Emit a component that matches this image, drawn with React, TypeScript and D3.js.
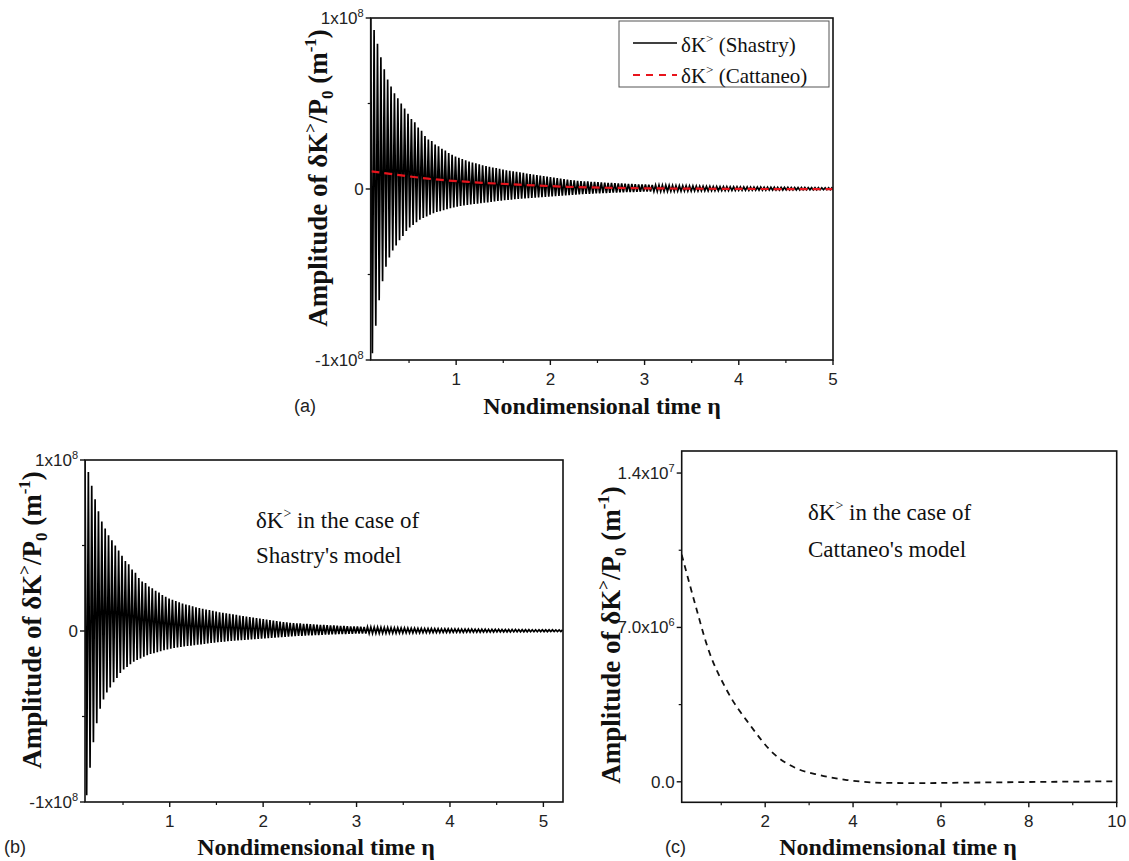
import React from "react";
import * as d3 from "d3";

// Shastry solution: successive peaks (x1e6); peaks alternate upper/lower
const etaStart = 0.093;
const halfStep = 0.018;
const shastryUpper = [
  100, 93, 85, 77, 70, 64, 60, 56, 53, 50, 47, 44, 41, 39, 36, 34, 31, 29, 28, 26,
  25, 23.5, 22.5, 21, 20, 19, 18.2, 17.5, 16.8, 16.1, 15.5, 15, 14.4, 13.9, 13.4, 13,
  12.6, 12.2, 11.8, 11.4, 11, 10.7, 10.4, 10, 9.7, 9.4, 9.1, 8.8, 8.5, 8.2, 7.9, 7.6,
  7.3, 7, 6.7, 6.4, 6.1, 5.8, 5.5, 5.2, 5, 4.8, 4.6,
  4.5, 4.4, 4.2, 4.1, 4, 3.9, 3.7, 3.6, 3.5, 3.4, 3.3, 3.2, 3.1, 3, 2.9, 2.8, 2.7, 2.65, 2.6,
  2.45, 2.4, 2.35, 2.3, 2.25, 2.2, 2.1, 2.05, 2, 1.95, 1.9, 1.85, 1.8, 1.75, 1.7, 1.65,
  1.6, 1.55, 1.5, 1.47, 1.44, 1.41, 1.38, 1.35, 1.32, 1.29, 1.26, 1.23,
  1.2, 1.18, 1.16, 1.14, 1.12, 1.1, 1.08, 1.06, 1.04, 1.02, 1, 0.98, 0.96, 0.94, 0.92,
  0.9, 0.88, 0.86, 0.84, 0.82, 0.8, 0.78, 0.76, 0.74, 0.72, 0.71, 0.7,
  0.69, 0.68, 0.67, 0.66, 0.65, 0.64,
];
const shastryLower = [
  -96, -80, -65, -54, -45.5, -40, -36, -33, -30, -27.5, -24.5, -22.5, -21, -19.5, -18,
  -17, -16, -15, -14.2, -13.5, -13, -12.4, -11.8, -11.3, -10.8, -10.3, -9.9, -9.6, -9.3,
  -9.05, -8.8, -8.55, -8.3, -8.05, -7.8, -7.55, -7.3, -7.05, -6.8, -6.6, -6.4, -6.2, -6,
  -5.85, -5.7, -5.55, -5.4, -5.25, -5.1, -4.95, -4.8, -4.65, -4.5, -4.35, -4.2, -4.05,
  -3.9, -3.75, -3.6, -3.45, -3.3, -3.15, -3,
  -2.9, -2.8, -2.7, -2.6, -2.5, -2.45, -2.35, -2.25, -2.15, -2.1, -2, -1.95, -1.85, -1.8,
  -1.75, -1.7, -1.6, -1.55, -1.5,
  -1.47, -1.45, -1.42, -1.4, -1.37, -1.35, -1.32, -1.3, -1.27, -1.25, -1.22, -1.2, -1.17,
  -1.15, -1.12, -1.1, -1.07, -1.05, -1.02, -1, -0.97, -0.95, -0.92, -0.9, -0.87, -0.85,
  -0.82, -0.8,
  -0.78, -0.77, -0.75, -0.74, -0.72, -0.71, -0.69, -0.68, -0.66, -0.65, -0.63, -0.62, -0.6,
  -0.59, -0.57, -0.56, -0.54, -0.53, -0.51, -0.5, -0.48, -0.47, -0.45, -0.44, -0.42, -0.4,
  -0.39, -0.38, -0.37, -0.36, -0.35, -0.34,
];

// Cattaneo solution (x1e6)
const cattEta = [0.1, 0.4, 0.7, 1.13, 1.66, 2.18, 2.72, 3.25, 3.86, 4.77, 5.5, 6.5, 7.5, 8.5, 10];
const cattVal = [10.3, 8.1, 6.04, 4.14, 2.56, 1.3, 0.6, 0.3, 0.08, -0.05, -0.06, -0.04, -0.02, 0, 0.02];

const xTicksAB = [1, 2, 3, 4, 5];
const xMinorAB = [0.5, 1.5, 2.5, 3.5, 4.5];
const yTicksAB = [-1e8, 0, 1e8];
const yMinorAB = [-5e7, 5e7];
const xTicksC = [2, 4, 6, 8, 10];
const xMinorC = [1, 3, 5, 7, 9];
const yTicksC = [0, 7e6, 1.4e7];
const yMinorC = [3.5e6, 1.05e7];

type Pt = { t: number; v: number };

const shastry: Pt[] = [];
shastryUpper.forEach((u, i) => {
  shastry.push({ t: etaStart + 2 * i * halfStep, v: u * 1e6 });
  if (i < shastryLower.length) shastry.push({ t: etaStart + (2 * i + 1) * halfStep, v: shastryLower[i] * 1e6 });
});
const cattaneo: Pt[] = cattEta.map((t, i) => ({ t, v: cattVal[i] * 1e6 }));

const SANS = "'Liberation Sans', Arial, sans-serif";
const SERIF = "'Liberation Serif', 'Times New Roman', serif";

const tickLabel = (v: number, kind: string) => {
  if (kind === "ab") {
    if (v === 0) return <>0</>;
    return (
      <>
        {v < 0 ? "-" : ""}1x10<tspan dy={-7} fontSize={11}>8</tspan>
      </>
    );
  }
  if (v === 0) return <>0.0</>;
  const exp = Math.floor(Math.log10(v));
  const m = (v / Math.pow(10, exp)).toFixed(1);
  return (
    <>
      {m}x10<tspan dy={-7} fontSize={11}>{exp}</tspan>
    </>
  );
};

const YTitle = ({ x, y }: { x: number; y: number }) => (
  <text
    transform={`translate(${x},${y}) rotate(-90)`}
    textAnchor="middle"
    fontFamily={SERIF}
    fontWeight="bold"
    fontSize={27}
    fill="#111"
  >
    Amplitude of δK<tspan dy={-11} fontSize={17}>&gt;</tspan>
    <tspan dy={11}>/P</tspan>
    <tspan dy={6} fontSize={17}>0</tspan>
    <tspan dy={-6}> (m</tspan>
    <tspan dy={-11} fontSize={17}>-1</tspan>
    <tspan dy={11}>)</tspan>
  </text>
);

type PanelProps = {
  id: string;
  left: number;
  right: number;
  top: number;
  bottom: number;
  xDomain: [number, number];
  yDomain: [number, number];
  xTicks: number[];
  xMinor: number[];
  yTicks: number[];
  yMinor: number[];
  kind: string;
  children: (x: d3.ScaleLinear<number, number>, y: d3.ScaleLinear<number, number>) => React.ReactNode;
};

const Panel = ({ id, left, right, top, bottom, xDomain, yDomain, xTicks, xMinor, yTicks, yMinor, kind, children }: PanelProps) => {
  const x = d3.scaleLinear().domain(xDomain).range([left, right]);
  const y = d3.scaleLinear().domain(yDomain).range([bottom, top]);
  return (
    <g>
      <defs>
        <clipPath id={id}>
          <rect x={left} y={top} width={right - left} height={bottom - top} />
        </clipPath>
      </defs>
      <g clipPath={`url(#${id})`}>{children(x, y)}</g>
      <rect x={left} y={top} width={right - left} height={bottom - top} fill="none" stroke="#111" strokeWidth={1.6} />
      {xTicks.map((t) => (
        <g key={"xt" + t}>
          <line x1={x(t)} x2={x(t)} y1={bottom} y2={bottom + 5} stroke="#111" strokeWidth={1.4} />
          <text x={x(t)} y={bottom + 25} textAnchor="middle" fontFamily={SANS} fontSize={17} fill="#222">
            {t}
          </text>
        </g>
      ))}
      {xMinor.map((t) => (
        <line key={"xm" + t} x1={x(t)} x2={x(t)} y1={bottom} y2={bottom + 3} stroke="#111" strokeWidth={1.2} />
      ))}
      {yTicks.map((t) => (
        <g key={"yt" + t}>
          <line x1={left - 5} x2={left} y1={y(t)} y2={y(t)} stroke="#111" strokeWidth={1.4} />
          <text x={left - 7} y={y(t) + 6} textAnchor="end" fontFamily={SANS} fontSize={17} fill="#222">
            {tickLabel(t, kind)}
          </text>
        </g>
      ))}
      {yMinor.map((t) => (
        <line key={"ym" + t} x1={left - 3} x2={left} y1={y(t)} y2={y(t)} stroke="#111" strokeWidth={1.2} />
      ))}
    </g>
  );
};

export default function App() {
  const line = (x: d3.ScaleLinear<number, number>, y: d3.ScaleLinear<number, number>) =>
    d3.line<Pt>().x((d) => x(d.t)).y((d) => y(d.v));
  const smooth = (x: d3.ScaleLinear<number, number>, y: d3.ScaleLinear<number, number>) =>
    d3.line<Pt>().x((d) => x(d.t)).y((d) => y(d.v)).curve(d3.curveMonotoneX);

  return (
    <svg width={1129} height={861} style={{ position: "absolute", left: 0, top: 0, background: "#fff" }}>
      {/* (a) */}
      <Panel
        id="clipA"
        left={370.7}
        right={833}
        top={18}
        bottom={360}
        xDomain={[0.093, 5]}
        yDomain={[-1e8, 1e8]}
        xTicks={xTicksAB}
        xMinor={xMinorAB}
        yTicks={yTicksAB}
        yMinor={yMinorAB}
        kind="ab"
      >
        {(x, y) => (
          <>
            <path d={line(x, y)(shastry) || ""} fill="none" stroke="#000" strokeWidth={1.7} />
            <path d={smooth(x, y)(cattaneo) || ""} fill="none" stroke="#e8141c" strokeWidth={2.2} strokeDasharray="8 5" />
          </>
        )}
      </Panel>
      <g>
        <rect x={619} y={21} width={210} height={66} fill="#fff" stroke="#555" strokeWidth={1} />
        <line x1={633} x2={677} y1={43} y2={43} stroke="#000" strokeWidth={1.5} />
        <text x={681} y={52} fontFamily={SERIF} fontSize={21} fill="#111">
          δK<tspan dy={-9} fontSize={13}>&gt;</tspan>
          <tspan dy={9}> (Shastry)</tspan>
        </text>
        <line x1={633} x2={677} y1={75} y2={75} stroke="#e8141c" strokeWidth={2} strokeDasharray="7 6" />
        <text x={681} y={83} fontFamily={SERIF} fontSize={21} fill="#111">
          δK<tspan dy={-9} fontSize={13}>&gt;</tspan>
          <tspan dy={9}> (Cattaneo)</tspan>
        </text>
      </g>
      <YTitle x={327} y={178} />
      <text x={602} y={414} textAnchor="middle" fontFamily={SERIF} fontWeight="bold" fontSize={24} fill="#111">
        Nondimensional time η
      </text>
      <text x={294} y={412} fontFamily={SANS} fontSize={18} fill="#222">(a)</text>

      {/* (b) */}
      <Panel
        id="clipB"
        left={85}
        right={563}
        top={460}
        bottom={802}
        xDomain={[0.093, 5.21]}
        yDomain={[-1e8, 1e8]}
        xTicks={xTicksAB}
        xMinor={xMinorAB}
        yTicks={yTicksAB}
        yMinor={yMinorAB}
        kind="ab"
      >
        {(x, y) => <path d={line(x, y)(shastry) || ""} fill="none" stroke="#000" strokeWidth={1.7} />}
      </Panel>
      <text x={256} y={528} fontFamily={SERIF} fontSize={23} fill="#111">
        δK<tspan dy={-10} fontSize={14}>&gt;</tspan>
        <tspan dy={10}> in the case of</tspan>
      </text>
      <text x={256} y={563} fontFamily={SERIF} fontSize={23} fill="#111">Shastry's model</text>
      <YTitle x={41} y={620} />
      <text x={316} y={855} textAnchor="middle" fontFamily={SERIF} fontWeight="bold" fontSize={24} fill="#111">
        Nondimensional time η
      </text>
      <text x={4} y={853} fontFamily={SANS} fontSize={18} fill="#222">(b)</text>

      {/* (c) */}
      <Panel
        id="clipC"
        left={681.7}
        right={1116.7}
        top={451}
        bottom={802.3}
        xDomain={[0.1, 10]}
        yDomain={[-0.93e6, 1.5e7]}
        xTicks={xTicksC}
        xMinor={xMinorC}
        yTicks={yTicksC}
        yMinor={yMinorC}
        kind="c"
      >
        {(x, y) => (
          <path d={smooth(x, y)(cattaneo) || ""} fill="none" stroke="#111" strokeWidth={1.8} strokeDasharray="6 5" />
        )}
      </Panel>
      <text x={808} y={520} fontFamily={SERIF} fontSize={23} fill="#111">
        δK<tspan dy={-10} fontSize={14}>&gt;</tspan>
        <tspan dy={10}> in the case of</tspan>
      </text>
      <text x={808} y={557} fontFamily={SERIF} fontSize={23} fill="#111">Cattaneo's model</text>
      <YTitle x={620} y={635} />
      <text x={898} y={855} textAnchor="middle" fontFamily={SERIF} fontWeight="bold" fontSize={24} fill="#111">
        Nondimensional time η
      </text>
      <text x={665} y={853} fontFamily={SANS} fontSize={18} fill="#222">(c)</text>
    </svg>
  );
}
